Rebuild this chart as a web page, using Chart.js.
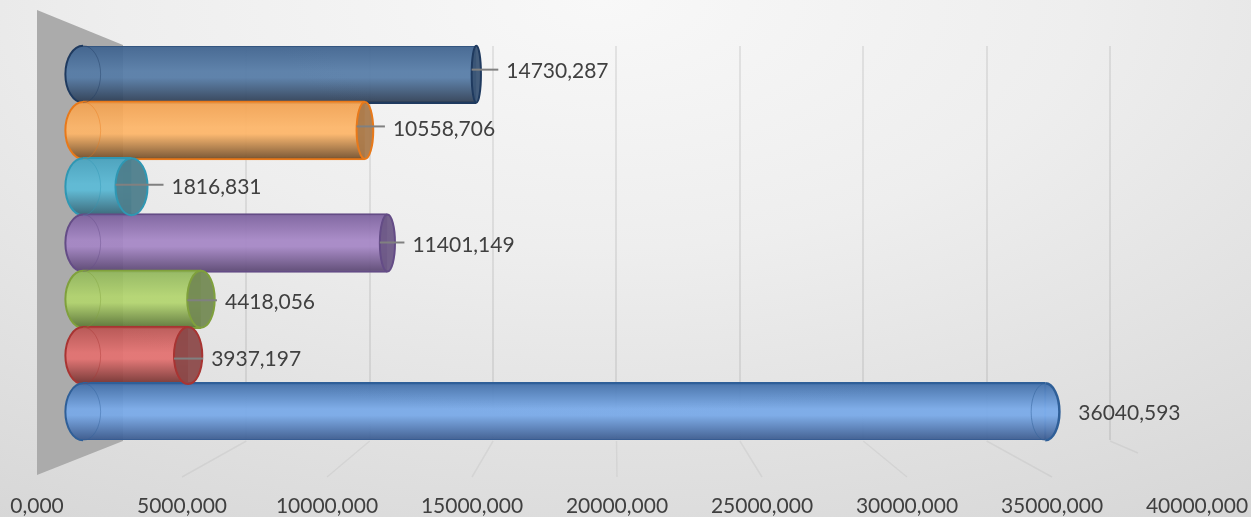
<!DOCTYPE html>
<html>
<head>
<meta charset="utf-8">
<title>Bar chart</title>
<script src="https://cdn.jsdelivr.net/npm/chart.js@4"></script>
<style>
  html, body { margin: 0; padding: 0; }
  body {
    width: 1251px;
    height: 517px;
    overflow: hidden;
    background: radial-gradient(ellipse 1200px 620px at 48% 0%, #f8f8f8 0%, #eeeeee 40%, #d6d6d6 100%);
  }
  canvas { display: block; }
</style>
</head>
<body>
<canvas id="my-chart" width="1251" height="517"></canvas>
<script>
'use strict';

// ******* DATA ********
let categories = ['1', '2', '3', '4', '5', '6', '7'];
let seriesValues = [14730.287, 10558.706, 1816.831, 11401.149, 4418.056, 3937.197, 36040.593];
let tickValues = [0, 5000, 10000, 15000, 20000, 25000, 30000, 35000, 40000];
let tickLabels = ['0,000', '5000,000', '10000,000', '15000,000', '20000,000', '25000,000', '30000,000', '35000,000', '40000,000'];

// ******* STYLES ********
let barTop = ['#3c608c', '#f0a050', '#48a3bf', '#7a5f9c', '#90b55c', '#b85351', '#3f6ca6'];
let barMid = ['#557ba6', '#fdb568', '#5cbbd7', '#a586c5', '#b2d46e', '#e37170', '#78a9e8'];
let barLow = ['#2b3a50', '#6f4c29', '#346475', '#584470', '#587234', '#70302e', '#37568a'];
let barEdge = ['#1f3a5f', '#e8791a', '#2f97b3', '#644c86', '#7fa03c', '#a83432', '#2f5f98'];
let capFace = ['rgba(58,84,117,.95)', 'rgba(170,122,76,.95)', 'rgba(78,126,140,.95)', 'rgba(110,90,135,.95)', 'rgba(116,138,84,.95)', 'rgba(140,74,74,.95)', ''];

// data label placement, px from the end of the bar
let labelGaps = [30, 28, 40, 25, 24, 23, 33];
let labelShifts = [-2.5, -1, 1, 2.5, 3, 4, 1];
let leaderShifts = [-4.5, -4, -2, -0.5, 1, 3, null];

let labelFont = '21px Lato';
let textColor = '#404040';

// ****** HELPERS ******
function barGradient(chart, i){
  let y = chart.scales.y.getPixelForValue(i);
  let g = chart.ctx.createLinearGradient(0, y - 29, 0, y + 29);
  // the ee alpha lets the wall and the grid show a little through the glass
  g.addColorStop(0, barTop[i] + 'ee');
  g.addColorStop(0.45, barMid[i] + 'ee');
  g.addColorStop(0.56, barMid[i] + 'ee');
  g.addColorStop(1, barLow[i] + 'ee');
  return g;
}

function capWidth(chart, x){
  let middle = chart.scales.xBars.getPixelForValue(20000);
  return Math.abs(x - middle) * 0.033;
}

function halfEllipse(ctx, x, y, rx, ry, side){
  ctx.beginPath();
  if(side === 'left'){
    ctx.ellipse(x, y, rx, ry, 0, Math.PI / 2, Math.PI * 1.5);
  } else {
    ctx.ellipse(x, y, rx, ry, 0, -Math.PI / 2, Math.PI / 2);
  }
}

// ****** BACK WALL AND FLOOR ******
let wallPlugin = {
  id: 'wall',
  beforeDatasetsDraw(chart){
    let ctx = chart.ctx;
    let area = chart.chartArea;
    let front = chart.scales.xFront;
    let back = chart.scales.xBack;
    ctx.save();

    // floor lines go from the back wall to the front edge
    ctx.strokeStyle = 'rgba(0,0,0,.05)';
    ctx.lineWidth = 1.5;
    for(let i = 1; i < tickValues.length; i++){
      ctx.beginPath();
      ctx.moveTo(back.getPixelForValue(tickValues[i]), area.bottom + 1);
      let x2 = front.getPixelForValue(tickValues[i]);
      let y2 = area.bottom + 37;
      if(i === tickValues.length - 1){
        x2 = back.getPixelForValue(tickValues[i]) + 28;
        y2 = area.bottom + 13;
      }
      ctx.lineTo(x2, y2);
      ctx.stroke();
    }

    // left wall
    ctx.fillStyle = '#ababab';
    ctx.beginPath();
    ctx.moveTo(front.getPixelForValue(0), area.top - 36);
    ctx.lineTo(back.getPixelForValue(0), area.top - 1);
    ctx.lineTo(back.getPixelForValue(0), area.bottom + 1);
    ctx.lineTo(front.getPixelForValue(0), area.bottom + 35);
    ctx.closePath();
    ctx.fill();
    ctx.restore();
  }
};

// ****** CYLINDER ENDS, LEADERS AND LABELS ******
let cylinderPlugin = {
  id: 'cylinder',
  afterDatasetsDraw(chart){
    let ctx = chart.ctx;
    let bars = chart.getDatasetMeta(0).data;
    let baseX = chart.scales.xBars.getPixelForValue(0);
    let middle = chart.scales.xBars.getPixelForValue(20000);
    ctx.save();

    for(let i = 0; i < bars.length; i++){
      let x = bars[i].x;
      let y = bars[i].y;
      let ry = bars[i].height / 2;
      let rxBase = capWidth(chart, baseX);
      let rx = capWidth(chart, x);

      // round end at the base
      ctx.strokeStyle = barEdge[i];
      ctx.fillStyle = barGradient(chart, i);
      halfEllipse(ctx, baseX, y, rxBase, ry - 1, 'left');
      ctx.fill();
      ctx.lineWidth = 2;
      ctx.stroke();
      halfEllipse(ctx, baseX, y, rxBase, ry - 1, 'right');
      ctx.globalAlpha = 0.4;
      ctx.lineWidth = 1;
      ctx.stroke();
      ctx.globalAlpha = 1;

      // round end at the value
      if(x < middle){
        ctx.fillStyle = capFace[i];
        ctx.beginPath();
        ctx.ellipse(x, y, rx, ry - 1, 0, 0, Math.PI * 2);
        ctx.fill();
        ctx.lineWidth = 2;
        ctx.stroke();
      } else {
        ctx.fillStyle = barGradient(chart, i);
        // thin patch hides the seam where the bar meets its end
        ctx.fillRect(x - 1, y - ry + 2, 2, 2 * ry - 4);
        halfEllipse(ctx, x, y, rx, ry - 1, 'right');
        ctx.fill();
        ctx.lineWidth = 2.5;
        ctx.stroke();
        halfEllipse(ctx, x, y, rx, ry - 1, 'left');
        ctx.globalAlpha = 0.5;
        ctx.lineWidth = 1;
        ctx.stroke();
        ctx.globalAlpha = 1;
      }
    }

    ctx.font = labelFont;
    ctx.textAlign = 'left';
    ctx.textBaseline = 'middle';
    for(let i = 0; i < bars.length; i++){
      let x = bars[i].x;
      let y = bars[i].y;
      let textX = x + labelGaps[i];
      if(leaderShifts[i] !== null){
        ctx.strokeStyle = '#808080';
        ctx.lineWidth = 2;
        ctx.beginPath();
        ctx.moveTo(x - capWidth(chart, x), y + leaderShifts[i]);
        ctx.lineTo(textX - 8, y + leaderShifts[i]);
        ctx.stroke();
      }
      ctx.fillStyle = textColor;
      ctx.fillText(seriesValues[i].toFixed(3).replace('.', ','), textX, y + labelShifts[i]);
    }
    ctx.restore();
  }
};

// ****** CHART ******
let ctx = document.getElementById('my-chart');

let chartObj = {
  type: 'bar',
  data: {
    labels: categories,
    datasets: [{
      data: seriesValues,
      xAxisID: 'xBars',
      barThickness: 59,
      borderSkipped: false,
      borderWidth: { top: 2, bottom: 2, left: 0, right: 0 },
      borderColor: barEdge,
      backgroundColor: function(context){
        if(!context.chart.chartArea){
          return barMid[context.dataIndex];
        }
        return barGradient(context.chart, context.dataIndex);
      }
    }]
  },
  options: {
    indexAxis: 'y',
    responsive: false,
    animation: false,
    devicePixelRatio: 1,
    layout: { padding: { top: 46, left: 37, right: 54, bottom: 0 } },
    plugins: {
      legend: { display: false },
      tooltip: { enabled: false }
    },
    scales: {
      y: { display: false },
      // the three x axes are the same values seen at three depths of the 3D box
      xBars: { display: false, min: -1723, max: 41723 },
      xBack: {
        position: 'bottom',
        min: -3485,
        max: 43526,
        border: { display: false },
        grid: { color: 'rgba(0,0,0,.08)', lineWidth: 2, drawTicks: false },
        ticks: { display: false },
        afterBuildTicks: function(axis){
          axis.ticks = tickValues.slice(1).map(v => ({ value: v }));
        }
      },
      xFront: {
        position: 'bottom',
        min: 0,
        max: 40000,
        border: { display: false },
        grid: { display: false },
        ticks: {
          stepSize: 5000,
          maxRotation: 0,
          autoSkip: false,
          padding: 46,
          color: textColor,
          font: { family: 'Lato', size: 21 },
          callback: function(value, index){
            return tickLabels[index];
          }
        },
        afterFit: function(axis){
          axis.height = 77;
          axis.paddingLeft = 0;
          axis.paddingRight = 0;
        }
      }
    }
  },
  plugins: [wallPlugin, cylinderPlugin]
};

new Chart(ctx, chartObj);
</script>
</body>
</html>
